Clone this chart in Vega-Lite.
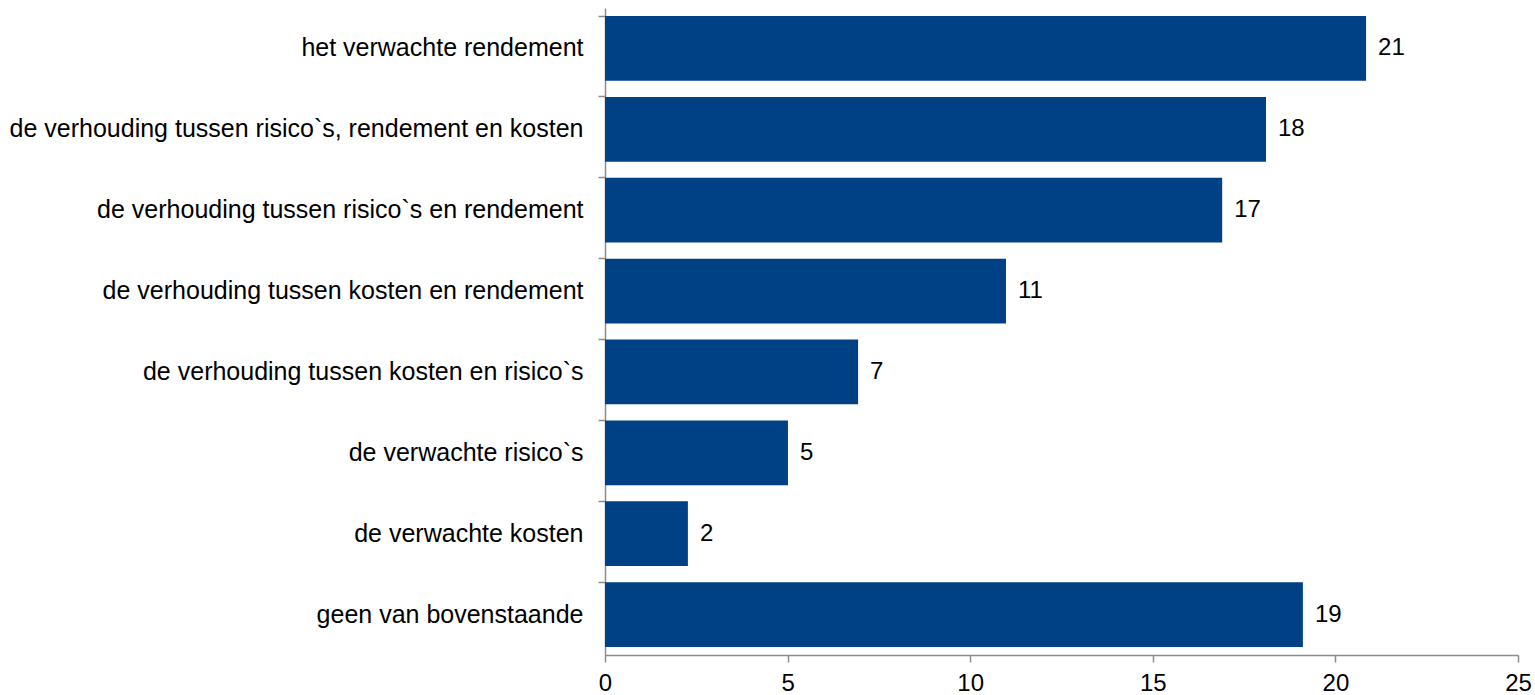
{
  "$schema": "https://vega.github.io/schema/vega-lite/v6.json",
  "width": 913,
  "height": 647,
  "autosize": {"type": "none"},
  "padding": {"left": 605, "top": 8, "right": 17, "bottom": 40},
  "background": "white",
  "config": {
    "view": {"stroke": null},
    "font": "Liberation Sans"
  },
  "data": {
    "values": [
      {"categorie": "het verwachte rendement", "waarde": 20.84},
      {"categorie": "de verhouding tussen risico`s, rendement en kosten", "waarde": 18.1},
      {"categorie": "de verhouding tussen risico`s en rendement", "waarde": 16.9},
      {"categorie": "de verhouding tussen kosten en rendement", "waarde": 10.98},
      {"categorie": "de verhouding tussen kosten en risico`s", "waarde": 6.93},
      {"categorie": "de verwachte risico`s", "waarde": 5.01},
      {"categorie": "de verwachte kosten", "waarde": 2.27},
      {"categorie": "geen van bovenstaande", "waarde": 19.11}
    ]
  },
  "encoding": {
    "y": {
      "field": "categorie",
      "type": "nominal",
      "sort": null,
      "scale": {"paddingInner": 0.2, "paddingOuter": 0.1},
      "axis": {
        "title": null,
        "bandPosition": 0,
        "domainColor": "#8c8c8c",
        "domainWidth": 1.5,
        "tickColor": "#8c8c8c",
        "tickWidth": 1.5,
        "tickSize": 7,
        "labelPadding": 15,
        "labelFont": "Liberation Sans",
        "labelFontSize": 25,
        "labelColor": "#000000",
        "labelLimit": 0,
        "grid": false
      }
    },
    "x": {
      "field": "waarde",
      "type": "quantitative",
      "scale": {"domain": [0, 25], "nice": false},
      "axis": {
        "title": null,
        "values": [0, 5, 10, 15, 20, 25],
        "grid": false,
        "domainColor": "#8c8c8c",
        "domainWidth": 1.5,
        "tickColor": "#8c8c8c",
        "tickWidth": 1.5,
        "tickSize": 7,
        "labelPadding": 9,
        "labelFont": "Liberation Sans",
        "labelFontSize": 24,
        "labelColor": "#000000",
        "labelFlush": false
      }
    }
  },
  "layer": [
    {"mark": {"type": "bar", "color": "#004185"}},
    {
      "mark": {"type": "text", "align": "left", "baseline": "middle", "dx": 12, "font": "Liberation Sans", "fontSize": 24, "color": "#000000"},
      "encoding": {"text": {"field": "waarde", "type": "quantitative", "format": ".0f"}}
    }
  ]
}
